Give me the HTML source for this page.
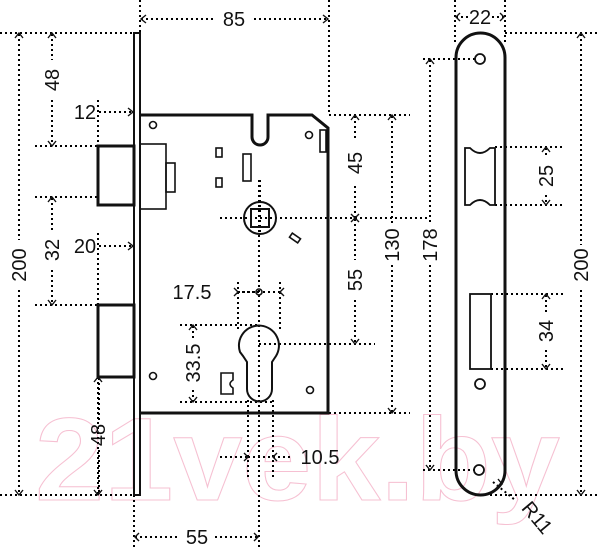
<!DOCTYPE html>
<html><head><meta charset="utf-8"><style>
html,body{margin:0;padding:0;background:#fff}
svg{display:block}
text{font-family:"Liberation Sans",sans-serif;font-size:20px;fill:#111}
</style></head><body>
<svg width="600" height="549" viewBox="0 0 600 549" xmlns="http://www.w3.org/2000/svg">
<!-- watermark -->
<text x="35" y="500" textLength="525" lengthAdjust="spacingAndGlyphs" style="font-size:118px;font-weight:bold;fill:none;stroke:#f6c0d2;stroke-width:1">21vek.by</text>

<g stroke="#000" stroke-width="2" stroke-dasharray="2 3" fill="none">
<!-- extension lines -->
<path d="M140,0V33 M329,0V115 M0,33H134 M0,495H134 M35,146H98 M35,197H98 M35,305H98 M98,100V146 M98,233V305 M98,377V495 M134,495V549 M259,180V549"/>
<path d="M329,115H410 M329,413H410 M220,218H375 M259,344H375 M238,282V330 M280,282V330 M180,325H259 M180,402H273 M248,400V480 M273,400V480 M220,457H248 M273,457H290"/>
<path d="M455,0V45 M505,0V45 M505,33H600 M490,495H600 M423,59H475 M423,470H475 M495,147H565 M495,205H565 M491,294H565 M491,369H565 M493,482L515,500"/>
<!-- dim lines -->
<path d="M141,19H215 M254,19H328"/>
<path d="M19,34V240 M19,290V494"/>
<path d="M52,34V60 M52,100V145 M52,198V230 M52,270V304"/>
<path d="M99,112H133 M99,246H133 M99,378V420 M99,450V494 M135,537H180 M215,537H258"/>
<path d="M238,292H255 M263,292H280 M193,326V340 M193,390V401 M248,457H273"/>
<path d="M355,116V140 M355,186V217 M355,219V260 M355,300V343 M392,116V225 M392,265V412 M430,60V225 M430,265V469"/>
<path d="M456,17H468 M492,17H504 M581,34V245 M581,290V494 M546,148V158 M546,195V204 M546,295V312 M546,350V368"/>
<path d="M260,180V235 M355,218H430 M259,292H238"/>
</g>
<!-- arrowheads -->
<g stroke="#111" stroke-width="1.4" fill="none">
<path d="M146,15L141,19L146,23 M323,15L328,19L323,23 M15,38L19,33L23,38 M15,490L19,495L23,490 M48,38L52,33L56,38 M48,141L52,146L56,141 M48,202L52,197L56,202 M48,300L52,305L56,300"/>
<path d="M128,108L133,112L128,116 M128,242L133,246L128,250 M94,382L98,377L102,382 M94,490L98,495L102,490 M139,533L135,537L139,541 M254,533L258,537L254,541"/>
<path d="M234,288L238,292L234,296 M284,288L280,292L284,296 M189,330L193,325L197,330 M189,397L193,402L197,397 M244,453L248,457L244,461 M277,453L273,457L277,461"/>
<path d="M351,120L355,115L359,120 M351,214L355,218L359,214 M351,222L355,218L359,222 M351,339L355,344L359,339 M388,120L392,115L396,120 M388,408L392,413L396,408 M426,64L430,59L434,64 M426,465L430,470L434,465"/>
<path d="M460,13L456,17L460,21 M500,13L504,17L500,21 M577,38L581,33L585,38 M577,490L581,495L585,490 M542,152L546,147L550,152 M542,200L546,205L550,200 M542,299L546,294L550,299 M542,364L546,369L550,364 M498,479L502,484L497,486"/>
</g>
<!-- labels -->
<text x="234" y="26" text-anchor="middle">85</text>
<text x="85" y="119" text-anchor="middle">12</text>
<text x="85" y="253" text-anchor="middle">20</text>
<text x="192" y="299" text-anchor="middle">17.5</text>
<text x="320" y="464" text-anchor="middle">10.5</text>
<text x="197" y="544" text-anchor="middle">55</text>
<text x="480" y="24" text-anchor="middle">22</text>
<g text-anchor="middle">
<text transform="translate(26,265) rotate(-90)">200</text>
<text transform="translate(59,80) rotate(-90)">48</text>
<text transform="translate(59,250) rotate(-90)">32</text>
<text transform="translate(105,435) rotate(-90)">48</text>
<text transform="translate(200,363) rotate(-90)">33.5</text>
<text transform="translate(362,163) rotate(-90)">45</text>
<text transform="translate(362,280) rotate(-90)">55</text>
<text transform="translate(399,245) rotate(-90)">130</text>
<text transform="translate(437,245) rotate(-90)">178</text>
<text transform="translate(588,265) rotate(-90)">200</text>
<text transform="translate(553,176) rotate(-90)">25</text>
<text transform="translate(553,331) rotate(-90)">34</text>
<text transform="translate(532,522) rotate(50)">R11</text>
</g>

<!-- lock body -->
<g stroke="#111" fill="none">
<path d="M134,33H140V495H134Z" stroke-width="2"/>
<path d="M140,115H252V137A8,8 0 0 0 268,137V115H312L328,128V413H140" stroke-width="3"/>
<rect x="98" y="146" width="36" height="59" stroke-width="3"/>
<rect x="98" y="305" width="36" height="72" stroke-width="3"/>
<rect x="140" y="144" width="26" height="65" stroke-width="1.6"/>
<rect x="166" y="163" width="9" height="29" stroke-width="1.6"/>
<rect x="216" y="148" width="6" height="9" stroke-width="1.6"/>
<rect x="216" y="178" width="6" height="9" stroke-width="1.6"/>
<rect x="243" y="154" width="8" height="27" stroke-width="1.6"/>
<rect x="320" y="130" width="6" height="22" stroke-width="1.6"/>
<circle cx="153" cy="125" r="3.5" stroke-width="1.6"/>
<circle cx="309" cy="135" r="3.5" stroke-width="1.6"/>
<circle cx="153" cy="376" r="3.5" stroke-width="1.6"/>
<circle cx="310" cy="390" r="3.5" stroke-width="1.6"/>
<circle cx="259" cy="292" r="3" stroke-width="1.6"/>
<circle cx="260" cy="218" r="16" stroke-width="2"/>
<rect x="251" y="209" width="18" height="18" stroke-width="2"/>
<rect x="-5" y="-2.5" width="10" height="5" transform="translate(295,238) rotate(35)" stroke-width="1.6"/>
<path d="M240,352A20,20 0 1 1 276,356L272,362V389A12.5,12.5 0 0 1 247,389V362L243,356Z" stroke-width="2"/>
<path d="M221,373H233V380Q227,384 233,388V394H221Z" stroke-width="1.6"/>
</g>

<!-- strike plate -->
<g stroke="#111" fill="none">
<rect x="456" y="33" width="49" height="462" rx="24.5" stroke-width="3"/>
<circle cx="480" cy="59" r="5" stroke-width="1.8"/>
<circle cx="480" cy="384" r="5" stroke-width="1.8"/>
<circle cx="479" cy="470" r="5" stroke-width="1.8"/>
<path d="M465,148H470Q480,158 490,148H495V205H490Q480,195 470,205H465Z" stroke-width="1.8"/>
<rect x="470" y="294" width="21" height="75" stroke-width="1.8"/>
</g>
</svg>
</body></html>
